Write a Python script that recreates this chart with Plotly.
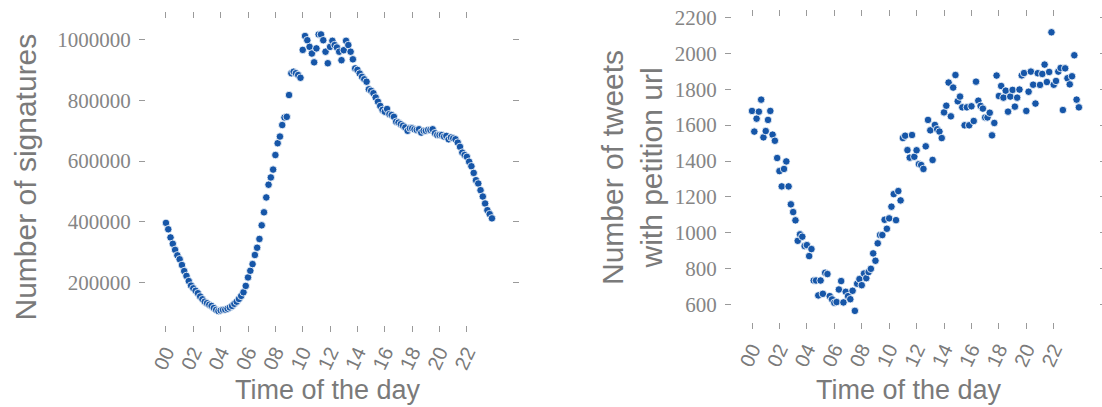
import pandas as pd
import plotly.graph_objects as go

# 10-minute time slots over one day
time_slots = pd.date_range("2016-06-24 00:00", periods=144, freq="10min")

signatures = [
    396000, 375000, 348000, 327000, 307000, 289000, 276000, 257000, 237000, 221000,
    204000, 189000, 180000, 172000, 164000, 153000, 144000, 136000, 131000, 126000,
    122000, 115000, 109000, 105000, 107000, 109000, 110000, 113000, 117000, 122000,
    129000, 136000, 145000, 155000, 167000, 188000, 216000, 238000, 260000, 290000,
    314000, 343000, 388000, 431000, 480000, 522000, 546000, 572000, 620000, 659000,
    681000, 719000, 744000, 746000, 818000, 890000, 895000, 890000, 884000, 875000,
    967000, 1013000, 999000, 977000, 955000, 926000, 972000, 1018000, 1018000, 999000,
    961000, 923000, 977000, 997000, 983000, 975000, 961000, 933000, 966000, 997000,
    983000, 961000, 936000, 906000, 901000, 889000, 878000, 870000, 862000, 837000,
    832000, 824000, 810000, 796000, 782000, 769000, 763000, 772000, 755000, 752000,
    746000, 730000, 727000, 722000, 717000, 711000, 700000, 708000, 708000, 705000,
    703000, 705000, 694000, 700000, 700000, 703000, 703000, 705000, 692000, 686000,
    686000, 686000, 681000, 683000, 672000, 678000, 675000, 672000, 661000, 647000,
    628000, 620000, 614000, 598000, 583000, 561000, 537000, 526000, 504000, 483000,
    460000, 438000, 425000, 411000,
]

tweets = [
    1679, 1564, 1636, 1675, 1742, 1532, 1567, 1629, 1679, 1547,
    1513, 1417, 1344, 1259, 1356, 1398, 1259, 1159, 1116, 1070,
    956, 992, 979, 927, 932, 871, 910, 735, 735, 652,
    735, 661, 778, 771, 648, 630, 611, 615, 685, 732,
    613, 672, 648, 631, 678, 566, 717, 743, 709, 774,
    748, 782, 800, 886, 845, 942, 988, 988, 1073, 1023,
    1081, 1146, 1216, 1071, 1233, 1181, 1528, 1541, 1461, 1419,
    1545, 1424, 1460, 1383, 1378, 1356, 1482, 1629, 1571, 1406,
    1601, 1577, 1564, 1528, 1671, 1708, 1837, 1649, 1809, 1879,
    1733, 1759, 1699, 1599, 1699, 1599, 1705, 1623, 1842, 1736,
    1707, 1692, 1643, 1643, 1669, 1543, 1612, 1876, 1762, 1818,
    1753, 1792, 1675, 1759, 1796, 1703, 1753, 1798, 1877, 1890,
    1679, 1786, 1898, 1825, 1720, 1889, 1824, 1885, 1937, 1840,
    1896, 2117, 1825, 1846, 1898, 1918, 1684, 1916, 1861, 1827,
    1872, 1989, 1742, 1699,
]

hour_ticks = ["00", "02", "04", "06", "08", "10", "12", "14", "16", "18", "20", "22"]
left_yticks = [200000, 400000, 600000, 800000, 1000000]
right_yticks = [600, 800, 1000, 1200, 1400, 1600, 1800, 2000, 2200]

W, H = 1102, 407
DOT = "#1656a8"
GREY = "#7a7a7a"
LABELGREY = "#858585"
TICKGREY = "#9a9a9a"

tick_vals = [time_slots[0] + pd.Timedelta(hours=2 * k) for k in range(len(hour_ticks))]
x_range = [time_slots[0] - pd.Timedelta(hours=1.46), time_slots[0] + pd.Timedelta(hours=25.3)]

marker = dict(color=DOT, size=7.5, line=dict(color="white", width=0.8))

fig = go.Figure()
fig.add_trace(go.Scatter(x=time_slots, y=signatures, mode="markers", marker=marker,
                         xaxis="x", yaxis="y", showlegend=False))
fig.add_trace(go.Scatter(x=time_slots, y=tweets, mode="markers", marker=marker,
                         xaxis="x2", yaxis="y2", showlegend=False))

xcommon = dict(
    type="date", range=x_range, tickmode="array", tickvals=tick_vals, ticktext=hour_ticks,
    tickangle=-65, ticks="outside", ticklen=6, tickwidth=1.2, tickcolor=TICKGREY,
    mirror="ticks", showline=False, showgrid=False, zeroline=False,
    tickfont=dict(family="Liberation Sans, Arial, sans-serif", size=20, color=GREY),
    automargin=False, ticklabelstandoff=1,
)
ycommon = dict(
    ticks="outside", ticklen=6, tickwidth=1.2, tickcolor=TICKGREY,
    mirror="ticks", showline=False, showgrid=False, zeroline=False,
    tickformat="d",
    tickfont=dict(family="Liberation Serif, Times New Roman, serif", size=21, color=LABELGREY),
    automargin=False, ticklabelstandoff=4,
)

fig.update_layout(
    width=W, height=H,
    margin=dict(l=0, r=0, t=0, b=0),
    paper_bgcolor="white", plot_bgcolor="white",
    xaxis=dict(domain=[146 / W, 512 / W], anchor="y", **xcommon),
    yaxis=dict(domain=[1 - 325 / H, 1 - 19 / H], anchor="x", range=[59000, 1069000],
               tickvals=left_yticks, **ycommon),
    xaxis2=dict(domain=[732 / W, 1099 / W], anchor="y2", **xcommon),
    yaxis2=dict(domain=[1 - 322 / H, 1 - 17 / H], anchor="x2", range=[504, 2202],
                tickvals=right_yticks, **ycommon),
)

title_font = dict(family="Liberation Sans, Arial, sans-serif", color=GREY)
annotations = [
    dict(text="Number of signatures", x=25.8 / W, y=1 - 176.7 / H, textangle=-90,
         font=dict(size=30, **title_font)),
    dict(text="Number of tweets<br>with petition url", x=632 / W, y=1 - 168 / H, textangle=-90,
         font=dict(size=30, **title_font)),
    dict(text="Time of the day", x=328.5 / W, y=1 - 390 / H, font=dict(size=27, **title_font)),
    dict(text="Time of the day", x=909 / W, y=1 - 390 / H, font=dict(size=27, **title_font)),
]
for a in annotations:
    a.update(xref="paper", yref="paper", showarrow=False, xanchor="center", yanchor="middle")
fig.update_layout(annotations=annotations)

fig.write_html("out.html")
